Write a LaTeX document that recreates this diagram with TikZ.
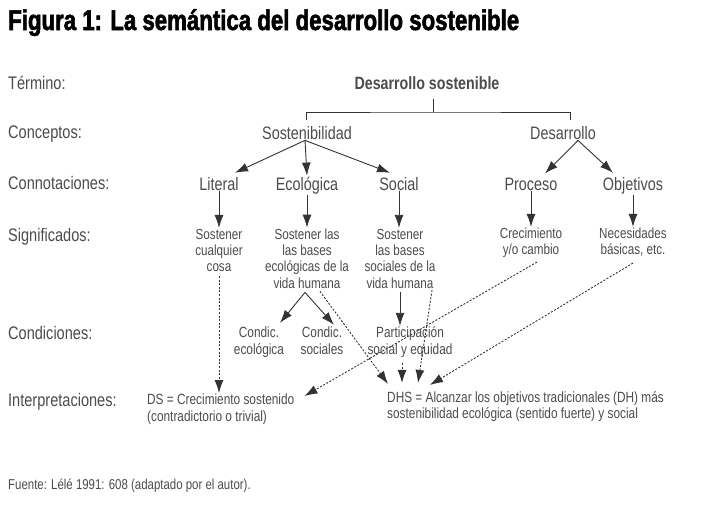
\documentclass[tikz,border=0pt]{standalone}
\usepackage{fontspec}
\setmainfont{Liberation Sans}[FakeStretch=0.8]
\newfontfamily\titlefont{Liberation Sans Bold}[FakeStretch=0.78,FakeBold=2]
\newfontfamily\termfont{Liberation Sans Bold}[FakeStretch=0.8]
\usepackage{tikz}
\usetikzlibrary{arrows.meta,positioning,calc}

\definecolor{ink}{gray}{0.2}
\definecolor{txt}{gray}{0.3}

\begin{document}
\begin{tikzpicture}[
  x=1pt, y=-1pt,
  every node/.style={text=txt, inner sep=1pt},
  row/.style={anchor=base west, inner sep=0pt, font=\fontsize{18.2}{20}\selectfont},
  word/.style={anchor=base, font=\fontsize{18}{20}\selectfont},
  lines/.style={execute at begin node=\strut, execute at end node=\strut},
  mean/.style={lines, align=center, font=\fontsize{14.6}{16.3}\selectfont},
  cond/.style={lines, align=center, font=\fontsize{14.8}{17}\selectfont},
  interp/.style={lines, align=left, anchor=west, font=\fontsize{14.8}{16.8}\selectfont},
  brk/.style={draw=ink, line width=0.9pt},
  arr/.style={-{Latex[length=13pt,width=9pt]}, draw=ink, line width=0.9pt},
  darr/.style={arr, dash pattern=on 2pt off 1.6pt}
]
  \useasboundingbox[fill=white] (0,0) rectangle (721,512);

  % titulo y fuente
  \node[anchor=base west, inner sep=0pt, text=black, font=\titlefont\fontsize{28.5}{30}\selectfont] (title) at (8,30) {Figura 1: La semántica del desarrollo sostenible};
  \node[anchor=base west, inner sep=0pt, font=\fontsize{14.3}{16}\selectfont] (src) at (8,489) {Fuente: Lélé 1991: 608 (adaptado por el autor).};

  % niveles
  \node[row] (lvterm) at (8,89) {Término:};
  \node[row] (lvconc) at (8,138) {Conceptos:};
  \node[row] (lvconn) at (8,189) {Connotaciones:};
  \node[row] (lvsig) at (8,241) {Significados:};
  \node[row] (lvcond) at (8,339) {Condiciones:};
  \node[row] (lvint) at (8,406) {Interpretaciones:};

  % termino y conceptos
  \node[anchor=base, font=\termfont\fontsize{17.8}{20}\selectfont] (term) at (427,89) {Desarrollo sostenible};
  \node[word] (sost) at (307,139) {Sostenibilidad};
  \node[word] (desa) at (563,139) {Desarrollo};

  % connotaciones
  \node[word] (lit) at (219,190) {Literal};
  \node[word] (eco) at (307,190) {Ecológica};
  \node[word] (soc) at (399,190) {Social};
  \node[word] (proc) at (531,190) {Proceso};
  \node[word] (obj) at (633,190) {Objetivos};

  % significados
  \node[mean] (litm) at (219,253) {Sostener\\cualquier\\cosa};
  \node[mean] (ecom) at (307,261) {Sostener las\\las bases\\ecológicas de la\\vida humana};
  \node[mean] (socm) at (400,261) {Sostener\\las bases\\sociales de la\\vida humana};
  \node[mean] (crec) at (531,244) {Crecimiento\\y/o cambio};
  \node[mean] (nec) at (633,244) {Necesidades\\básicas, etc.};

  % condiciones
  \node[cond] (condeco) at (259,343.5) {Condic.\\ecológica};
  \node[cond] (condsoc) at (322,343.5) {Condic.\\sociales};
  \node[cond] (part) at (410,343.5) {Participación\\social y equidad};

  % interpretaciones
  \node[interp] (ds) at (146,410.5) {DS = Crecimiento sostenido\\(contradictorio o trivial)};
  \node[interp] (dhs) at (386,407.5) {DHS = Alcanzar los objetivos tradicionales (DH) más\\sostenibilidad ecológica (sentido fuerte) y social};

  % llave
  \coordinate (tick) at (433,99);
  \coordinate (split) at (433,112);
  \coordinate (brl) at (306,120);
  \coordinate (brr) at (570,120);
  \draw[brk] (tick) -- (split);
  \draw[brk] (brl) |- (split) -| (brr);

  % conceptos -> connotaciones
  \coordinate (sapex) at ($(sost.south)+(-2,0)$);
  \coordinate (dapex) at ($(desa.south)+(15,0)$);
  \draw[arr] (sapex) -- ($(lit.north)+(16,-3)$);
  \draw[arr] (sapex) -- (eco.north);
  \draw[arr] (sapex) -- ($(soc.north)+(-9,-3)$);
  \draw[arr] (dapex) -- ($(proc.north)+(14,-3)$);
  \draw[arr] (dapex) -- ($(obj.north)+(-20,-3)$);

  % connotaciones -> significados
  \draw[arr] (lit) -- (litm);
  \draw[arr] (eco) -- (ecom);
  \draw[arr] (soc) -- (soc |- socm.north);
  \draw[arr] (proc) -- (crec);
  \draw[arr] (obj) -- (nec);

  % significados -> condiciones
  \coordinate (eapex) at ($(ecom.south)+(-2,-2)$);
  \draw[arr] (eapex) -- ($(condeco.north)+(21,-3)$);
  \draw[arr] (eapex) -- ($(condsoc.north)+(12,-1)$);
  \draw[arr] ($(socm.south)+(0,-2)$) -- (socm.south |- part.north);

  % hacia las interpretaciones
  \draw[darr] ($(litm.south)+(0,-2)$) -- (litm.south |- ds.north);
  \draw[darr] ($(crec.south)+(6,1)$) -- ($(ds.north east)+(9,3)$);
  \draw[darr] ($(ecom.south)+(13,-3)$) -- ($(dhs.north west)+(2,-6)$);
  \draw[darr] ($(part.south)+(-8,2)$) -- ($(dhs.north west)+(16,-7)$);
  \draw[darr] ($(socm.south)+(32,-4)$) -- ($(dhs.north west)+(32,-7)$);
  \draw[darr] ($(nec.south)+(0,2)$) -- ($(dhs.north west)+(44,-5)$);
\end{tikzpicture}
\end{document}
